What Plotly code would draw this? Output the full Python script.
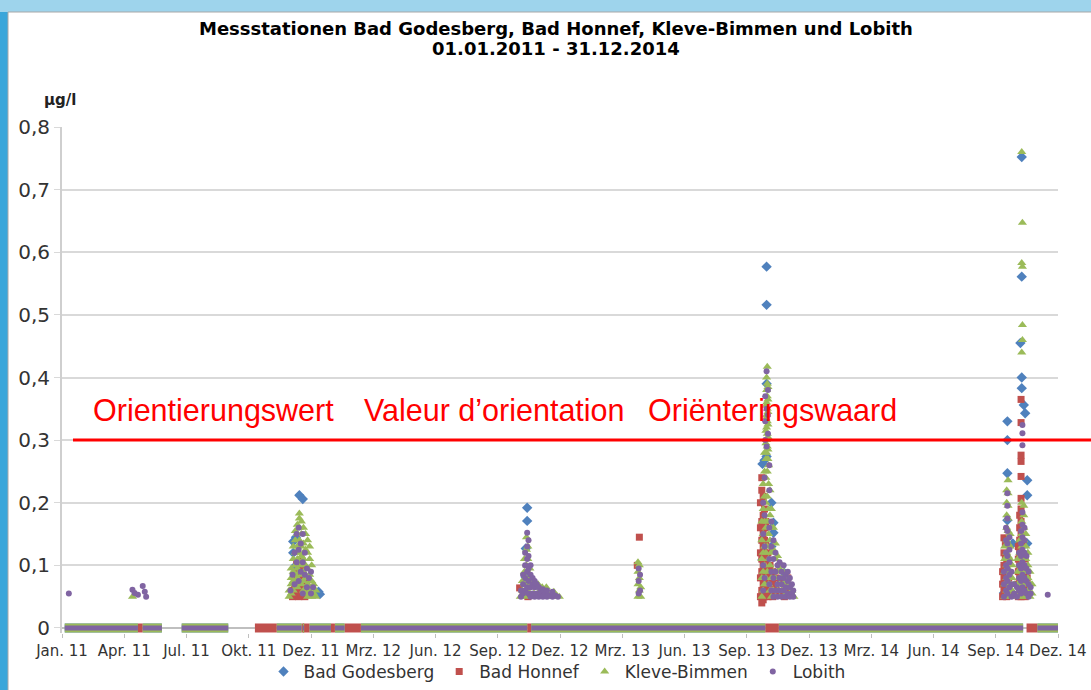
import plotly.graph_objects as go

# ---------------- data ----------------
TICK_DATES = ["2011-01-01", "2011-04-02", "2011-07-02", "2011-10-01", "2011-12-31",
              "2012-03-31", "2012-06-30", "2012-09-29", "2012-12-29", "2013-03-30",
              "2013-06-29", "2013-09-28", "2013-12-28", "2014-03-29", "2014-06-28",
              "2014-09-27", "2014-12-27"]
TICK_LABELS = ["Jan. 11", "Apr. 11", "Jul. 11", "Okt. 11", "Dez. 11", "Mrz. 12", "Jun. 12",
               "Sep. 12", "Dez. 12", "Mrz. 13", "Jun. 13", "Sep. 13", "Dez. 13", "Mrz. 14",
               "Jun. 14", "Sep. 14", "Dez. 14"]
Y_TICKS = [0, 0.1, 0.2, 0.3, 0.4, 0.5, 0.6, 0.7, 0.8]
Y_LABELS = ["0", "0,1", "0,2", "0,3", "0,4", "0,5", "0,6", "0,7", "0,8"]
ORIENTIERUNGSWERT = 0.3

SERIES_NAMES = ["Bad Godesberg", "Bad Honnef", "Kleve-Bimmen", "Lobith"]

GODESBERG_PEAKS = [
    ("2011-12-05", [0.12, 0.138]), ("2011-12-09", [0.10, 0.145]),
    ("2011-12-14", [0.212]), ("2011-12-19", [0.206]),
    ("2012-01-11", [0.058]), ("2012-01-13", [0.054]),
    ("2012-11-09", [0.081, 0.127]), ("2012-11-11", [0.171, 0.192]), ("2012-11-24", [0.069]),
    ("2013-10-21", [0.109, 0.262]), ("2013-10-24", [0.268]),
    ("2013-10-27", [0.274, 0.39, 0.516, 0.577]),
    ("2013-11-03", [0.13, 0.2]), ("2013-11-06", [0.152, 0.168]),
    ("2013-11-22", [0.088]), ("2013-11-25", [0.077]),
    ("2014-10-09", [0.056]), ("2014-10-14", [0.135, 0.172, 0.247, 0.30, 0.33]),
    ("2014-10-22", [0.135]), ("2014-11-02", [0.455]),
    ("2014-11-04", [0.383, 0.40, 0.561, 0.752]),
    ("2014-11-07", [0.356]), ("2014-11-09", [0.343]),
    ("2014-11-12", [0.135, 0.212, 0.236]),
]

HONNEF_PEAKS = [
    ("2011-12-04", [0.05, 0.06]), ("2011-12-07", [0.055, 0.07, 0.085]),
    ("2011-12-10", [0.06, 0.075, 0.09, 0.105]), ("2011-12-13", [0.05, 0.065, 0.08, 0.1]),
    ("2011-12-16", [0.055, 0.07, 0.09, 0.108]), ("2011-12-19", [0.06, 0.08, 0.095]),
    ("2011-12-22", [0.05, 0.065, 0.08]), ("2011-12-25", [0.055, 0.07]),
    ("2012-10-31", [0.064]), ("2012-11-05", [0.055]), ("2012-11-12", [0.05]),
    ("2013-04-21", [0.10]), ("2013-04-24", [0.145]),
    ("2013-10-18", [0.05, 0.08, 0.12, 0.16, 0.2]),
    ("2013-10-20", [0.04, 0.06, 0.09, 0.11, 0.14, 0.17, 0.22, 0.24]),
    ("2013-10-22", [0.045, 0.07, 0.1, 0.13, 0.15, 0.18, 0.21]),
    ("2013-10-24", [0.05, 0.075, 0.095, 0.12, 0.14, 0.16, 0.19]),
    ("2013-10-26", [0.06, 0.085, 0.11, 0.135, 0.17]),
    ("2013-10-29", [0.05, 0.07, 0.09, 0.12]), ("2013-11-01", [0.055, 0.08, 0.1]),
    ("2013-11-05", [0.05, 0.07, 0.09]), ("2013-11-10", [0.06, 0.08]),
    ("2013-11-16", [0.055, 0.075]), ("2013-11-22", [0.05, 0.07]), ("2013-11-27", [0.06, 0.08]),
    ("2014-10-07", [0.05, 0.07, 0.09]), ("2014-10-09", [0.06, 0.08, 0.1, 0.12, 0.144]),
    ("2014-10-11", [0.055, 0.075, 0.095, 0.115, 0.135]),
    ("2014-10-13", [0.05, 0.07, 0.09, 0.11]), ("2014-10-16", [0.06, 0.08]),
    ("2014-10-30", [0.05, 0.07, 0.09, 0.11, 0.13]),
    ("2014-11-01", [0.06, 0.08, 0.1, 0.12, 0.14, 0.16, 0.18]),
    ("2014-11-03", [0.05, 0.07, 0.09, 0.11, 0.13, 0.15, 0.17, 0.19, 0.207, 0.242,
                    0.266, 0.276, 0.328, 0.365]),
    ("2014-11-06", [0.055, 0.075, 0.095, 0.115, 0.135]),
    ("2014-11-09", [0.05, 0.07, 0.09, 0.11]), ("2014-11-12", [0.06, 0.08]),
]

KLEVE_PEAKS = [
    ("2011-04-14", [0.05]), ("2011-04-19", [0.054]),
    ("2011-11-29", [0.05, 0.06]), ("2011-12-02", [0.055, 0.07, 0.08, 0.095]),
    ("2011-12-05", [0.06, 0.075, 0.09, 0.11, 0.13]),
    ("2011-12-08", [0.07, 0.085, 0.1, 0.12, 0.14, 0.155]),
    ("2011-12-11", [0.065, 0.08, 0.095, 0.11, 0.13, 0.15, 0.165]),
    ("2011-12-14", [0.09, 0.105, 0.12, 0.14, 0.16, 0.175, 0.183]),
    ("2011-12-17", [0.07, 0.085, 0.1, 0.115, 0.13, 0.15, 0.17]),
    ("2011-12-20", [0.06, 0.075, 0.09, 0.11, 0.135, 0.16]),
    ("2011-12-23", [0.055, 0.08, 0.1, 0.125, 0.15]),
    ("2011-12-26", [0.05, 0.07, 0.095, 0.12, 0.14]),
    ("2011-12-29", [0.06, 0.085, 0.11, 0.13]), ("2012-01-01", [0.05, 0.075, 0.1]),
    ("2012-01-04", [0.055, 0.07]), ("2012-01-07", [0.05, 0.06]),
    ("2012-11-01", [0.05]), ("2012-11-04", [0.06, 0.075]),
    ("2012-11-07", [0.05, 0.07, 0.09, 0.11]),
    ("2012-11-10", [0.06, 0.08, 0.1, 0.125, 0.145]),
    ("2012-11-12", [0.07, 0.09, 0.11, 0.13]), ("2012-11-15", [0.055, 0.075, 0.095]),
    ("2012-11-18", [0.05, 0.065, 0.08]), ("2012-11-21", [0.055, 0.07]),
    ("2012-11-24", [0.05, 0.065]), ("2012-11-27", [0.055, 0.07]),
    ("2012-11-30", [0.05, 0.06]), ("2012-12-03", [0.055, 0.065]), ("2012-12-06", [0.05]),
    ("2012-12-09", [0.055, 0.065]), ("2012-12-12", [0.05]), ("2012-12-16", [0.055]),
    ("2012-12-20", [0.05, 0.058]), ("2012-12-24", [0.052]), ("2012-12-28", [0.05]),
    ("2013-04-22", [0.05, 0.07, 0.09, 0.105]), ("2013-04-24", [0.06, 0.08, 0.1]),
    ("2013-04-26", [0.05, 0.065]),
    ("2013-10-20", [0.05, 0.08, 0.11, 0.14, 0.17]),
    ("2013-10-22", [0.06, 0.09, 0.12, 0.15, 0.19, 0.23]),
    ("2013-10-24", [0.07, 0.1, 0.13, 0.17, 0.21, 0.25, 0.28]),
    ("2013-10-26", [0.08, 0.12, 0.16, 0.2, 0.24, 0.27, 0.295, 0.315, 0.335, 0.355]),
    ("2013-10-27", [0.28, 0.30, 0.32, 0.34, 0.36, 0.38, 0.40]),
    ("2013-10-28", [0.09, 0.13, 0.17, 0.21, 0.25, 0.29, 0.31, 0.33, 0.35, 0.37, 0.39, 0.417]),
    ("2013-10-29", [0.27, 0.285, 0.305, 0.325, 0.345, 0.365, 0.385]),
    ("2013-10-30", [0.07, 0.11, 0.15, 0.19, 0.23, 0.26]),
    ("2013-11-01", [0.06, 0.1, 0.14, 0.18, 0.22]),
    ("2013-11-03", [0.05, 0.08, 0.12, 0.16, 0.19]),
    ("2013-11-06", [0.06, 0.09, 0.125, 0.16]), ("2013-11-09", [0.05, 0.08, 0.11, 0.135]),
    ("2013-11-12", [0.06, 0.09, 0.115]), ("2013-11-15", [0.05, 0.07, 0.095]),
    ("2013-11-18", [0.06, 0.08, 0.1]), ("2013-11-21", [0.05, 0.07, 0.09]),
    ("2013-11-24", [0.055, 0.075]), ("2013-11-27", [0.05, 0.065, 0.08]),
    ("2013-11-30", [0.055, 0.07]), ("2013-12-03", [0.05, 0.06]), ("2013-12-06", [0.05]),
    ("2014-10-10", [0.05, 0.07, 0.09, 0.11, 0.13]),
    ("2014-10-13", [0.06, 0.08, 0.1, 0.12, 0.14, 0.16, 0.18, 0.2, 0.22]),
    ("2014-10-15", [0.055, 0.075, 0.095, 0.115, 0.135, 0.155, 0.175, 0.195, 0.215, 0.236]),
    ("2014-10-18", [0.05, 0.07, 0.09, 0.11, 0.13, 0.15]),
    ("2014-10-21", [0.06, 0.08, 0.1]), ("2014-10-24", [0.05, 0.07]),
    ("2014-10-29", [0.05, 0.07, 0.09, 0.11]), ("2014-11-01", [0.06, 0.08, 0.1, 0.12, 0.14]),
    ("2014-11-04", [0.05, 0.07, 0.09, 0.11, 0.13, 0.15, 0.17, 0.2, 0.44, 0.583, 0.76]),
    ("2014-11-05", [0.647, 0.577, 0.484, 0.46]),
    ("2014-11-07", [0.06, 0.08, 0.1, 0.12, 0.14, 0.16, 0.18, 0.195]),
    ("2014-11-10", [0.05, 0.07, 0.09, 0.11, 0.13, 0.15]),
    ("2014-11-13", [0.06, 0.08, 0.1, 0.12]), ("2014-11-16", [0.05, 0.07, 0.09]),
    ("2014-11-19", [0.055, 0.07]),
]

LOBITH_PEAKS = [
    ("2011-01-11", [0.055]),
    ("2011-04-14", [0.061]), ("2011-04-17", [0.056]), ("2011-04-22", [0.053]),
    ("2011-04-29", [0.067]), ("2011-05-02", [0.058]), ("2011-05-04", [0.05]),
    ("2011-12-01", [0.06]), ("2011-12-04", [0.085]), ("2011-12-07", [0.07, 0.12]),
    ("2011-12-10", [0.105, 0.15]), ("2011-12-13", [0.075, 0.125, 0.16]),
    ("2011-12-16", [0.09, 0.135]), ("2011-12-19", [0.055, 0.105, 0.15]),
    ("2011-12-22", [0.085, 0.12]), ("2011-12-25", [0.065, 0.095]),
    ("2011-12-28", [0.08]), ("2011-12-31", [0.055, 0.09]), ("2012-01-03", [0.065]),
    ("2012-11-02", [0.05, 0.06]), ("2012-11-05", [0.055, 0.07, 0.085]),
    ("2012-11-08", [0.06, 0.08, 0.1, 0.12]), ("2012-11-11", [0.065, 0.09, 0.11, 0.13, 0.152]),
    ("2012-11-13", [0.055, 0.075, 0.095, 0.115, 0.14]),
    ("2012-11-16", [0.05, 0.065, 0.085, 0.1]), ("2012-11-19", [0.055, 0.07, 0.08]),
    ("2012-11-22", [0.05, 0.065, 0.075]), ("2012-11-25", [0.055, 0.07]),
    ("2012-11-28", [0.05, 0.065]), ("2012-12-01", [0.055, 0.06]),
    ("2012-12-04", [0.05, 0.062]), ("2012-12-07", [0.055]), ("2012-12-10", [0.05, 0.06]),
    ("2012-12-14", [0.052]), ("2012-12-18", [0.05, 0.058]), ("2012-12-22", [0.052]),
    ("2012-12-26", [0.05]),
    ("2013-04-23", [0.055, 0.075, 0.095]), ("2013-04-25", [0.06, 0.085]),
    ("2013-10-22", [0.06, 0.1, 0.15, 0.2]), ("2013-10-24", [0.08, 0.13, 0.18, 0.24]),
    ("2013-10-25", [0.3, 0.33, 0.37]), ("2013-10-27", [0.29, 0.35, 0.41]),
    ("2013-10-29", [0.31, 0.34, 0.38]), ("2013-10-31", [0.07, 0.11, 0.16, 0.22, 0.26]),
    ("2013-11-03", [0.06, 0.09, 0.13, 0.17]), ("2013-11-06", [0.05, 0.08, 0.11, 0.14]),
    ("2013-11-09", [0.06, 0.09, 0.12]), ("2013-11-12", [0.05, 0.07, 0.1]),
    ("2013-11-15", [0.06, 0.08, 0.105]), ("2013-11-18", [0.05, 0.07, 0.09]),
    ("2013-11-21", [0.06, 0.08, 0.1]), ("2013-11-24", [0.05, 0.065, 0.085]),
    ("2013-11-27", [0.055, 0.075, 0.09]), ("2013-11-30", [0.05, 0.065, 0.08]),
    ("2013-12-03", [0.055, 0.07]), ("2013-12-05", [0.05, 0.06]),
    ("2014-10-09", [0.05, 0.07, 0.09]), ("2014-10-12", [0.06, 0.08, 0.1, 0.12, 0.14, 0.16]),
    ("2014-10-14", [0.055, 0.075, 0.095, 0.115, 0.135, 0.155, 0.175, 0.195, 0.215]),
    ("2014-10-17", [0.065, 0.085, 0.105, 0.125, 0.145]), ("2014-10-20", [0.05, 0.07, 0.09]),
    ("2014-10-24", [0.055, 0.07]), ("2014-10-28", [0.05, 0.065]),
    ("2014-10-31", [0.06, 0.08, 0.1, 0.12]),
    ("2014-11-03", [0.055, 0.075, 0.095, 0.115, 0.135, 0.155]),
    ("2014-11-05", [0.065, 0.085, 0.105, 0.125, 0.145, 0.165, 0.185, 0.292, 0.311, 0.324]),
    ("2014-11-08", [0.06, 0.08, 0.1, 0.12, 0.14, 0.16]),
    ("2014-11-11", [0.055, 0.075, 0.095, 0.115]), ("2014-11-14", [0.05, 0.07, 0.09]),
    ("2014-11-17", [0.055, 0.065]), ("2014-12-12", [0.053]),
]

# periods in which the measured value is 0 (below detection limit)
LOBITH_ZERO = [("2011-01-05", "2011-04-22"), ("2011-04-29", "2011-05-27"),
               ("2011-06-25", "2011-09-01"), ("2011-11-11", "2011-12-17"),
               ("2011-12-19", "2011-12-21"), ("2011-12-29", "2012-01-29"),
               ("2012-02-04", "2012-02-18"), ("2012-03-13", "2012-11-11"),
               ("2012-11-17", "2013-10-25"), ("2013-11-14", "2014-11-06"),
               ("2014-11-27", "2014-12-31")]
KLEVE_ZERO = LOBITH_ZERO
GODESBERG_ZERO = LOBITH_ZERO
HONNEF_ZERO = [("2011-04-22", "2011-04-29"), ("2011-10-10", "2011-11-11"),
               ("2011-12-17", "2011-12-29"), ("2012-01-29", "2012-02-04"),
               ("2012-02-18", "2012-03-13"), ("2012-11-11", "2012-11-17"),
               ("2013-10-25", "2013-11-14"), ("2014-11-11", "2014-11-27")]

# ---------------- styling ----------------
COLORS = ["#4F81BD", "#C0504D", "#9BBB59", "#8064A2"]
SYMBOLS = ["diamond", "square", "triangle-up", "circle"]
SIZES = [8, 7, 8, 6]
BAND_WIDTHS = [9, 9, 9, 5]

X_RANGE = ["2011-01-01", "2014-12-27"]
Y_RANGE = [-0.008, 0.8]

W, H = 1091, 690
ML, MR, MT, MB = 62, 33, 127, 57
PW, PH = W - ML - MR, H - MT - MB


def px_x(px):
    return (px - ML) / PW


def px_y(py):
    return (H - MB - py) / PH


def expand(peaks):
    xs, ys = [], []
    for d, vals in peaks:
        for v in vals:
            xs.append(d)
            ys.append(v)
    return xs, ys


def band(segments):
    xs, ys = [], []
    for s, e in segments:
        xs += [s, e, None]
        ys += [0, 0, None]
    return xs, ys


fig = go.Figure()
all_peaks = [GODESBERG_PEAKS, HONNEF_PEAKS, KLEVE_PEAKS, LOBITH_PEAKS]
all_zero = [GODESBERG_ZERO, HONNEF_ZERO, KLEVE_ZERO, LOBITH_ZERO]

for i in range(4):
    bx, by = band(all_zero[i])
    fig.add_trace(go.Scatter(x=bx, y=by, mode="lines", showlegend=False, hoverinfo="skip",
                             line=dict(color=COLORS[i], width=BAND_WIDTHS[i])))
for i in range(4):
    px_, py_ = expand(all_peaks[i])
    fig.add_trace(go.Scatter(x=px_, y=py_, mode="markers", name=SERIES_NAMES[i],
                             cliponaxis=False,
                             marker=dict(color=COLORS[i], symbol=SYMBOLS[i], size=SIZES[i],
                                         line=dict(width=0))))

y_line = (ORIENTIERUNGSWERT - Y_RANGE[0]) / (Y_RANGE[1] - Y_RANGE[0])

shapes = [
    # slide background strips
    dict(type="rect", xref="paper", yref="paper", x0=px_x(0), x1=px_x(8),
         y0=px_y(H), y1=px_y(0), fillcolor="#3AA6DA", line=dict(width=0), layer="below"),
    dict(type="rect", xref="paper", yref="paper", x0=px_x(0), x1=px_x(W),
         y0=px_y(12), y1=px_y(0), fillcolor="#9ED4EC", line=dict(width=0), layer="below"),
    dict(type="line", xref="paper", yref="paper", x0=px_x(8), x1=px_x(W),
         y0=px_y(12), y1=px_y(12), line=dict(color="#A8A8A8", width=1), layer="below"),
    dict(type="line", xref="paper", yref="paper", x0=px_x(8), x1=px_x(8),
         y0=px_y(H), y1=px_y(12), line=dict(color="#A8A8A8", width=1), layer="below"),
    # orientation value line
    dict(type="line", xref="paper", yref="paper", x0=px_x(73), x1=px_x(W),
         y0=y_line, y1=y_line, line=dict(color="#FF0000", width=3)),
]

red_font = dict(family="Liberation Sans, Arial", size=30.5, color="#FF0000")
annotations = [
    dict(text="Orientierungswert", xref="paper", yref="y", x=px_x(91), y=0.348,
         xanchor="left", yanchor="middle", showarrow=False, font=red_font),
    dict(text="Valeur d’orientation", xref="paper", yref="y", x=px_x(362), y=0.348,
         xanchor="left", yanchor="middle", showarrow=False, font=red_font),
    dict(text="Oriënteringswaard", xref="paper", yref="y", x=px_x(646), y=0.348,
         xanchor="left", yanchor="middle", showarrow=False, font=red_font),
    dict(text="<b>Messstationen Bad Godesberg, Bad Honnef, Kleve-Bimmen und Lobith</b>",
         xref="paper", yref="paper", x=px_x(556), y=px_y(28), xanchor="center",
         yanchor="middle", showarrow=False,
         font=dict(family="DejaVu Sans", size=18, color="#000000")),
    dict(text="<b>01.01.2011 - 31.12.2014</b>",
         xref="paper", yref="paper", x=px_x(556), y=px_y(48), xanchor="center",
         yanchor="middle", showarrow=False,
         font=dict(family="DejaVu Sans", size=18, color="#000000")),
    dict(text="<b>µg/l</b>", xref="paper", yref="paper", x=px_x(42), y=px_y(100),
         xanchor="left", yanchor="middle", showarrow=False,
         font=dict(family="DejaVu Sans", size=15, color="#222222")),
]

fig.update_layout(
    width=W, height=H,
    margin=dict(l=ML, r=MR, t=MT, b=MB, pad=0, autoexpand=False),
    paper_bgcolor="white", plot_bgcolor="white",
    shapes=shapes, annotations=annotations,
    showlegend=True,
    legend=dict(orientation="h", x=0.497, xanchor="center",
                yref="container", y=(H - 672) / H, yanchor="middle",
                font=dict(family="DejaVu Sans", size=17, color="#333333"),
                itemwidth=30, bgcolor="rgba(0,0,0,0)"),
    xaxis=dict(type="date", range=X_RANGE, tickvals=TICK_DATES, ticktext=TICK_LABELS,
               showgrid=False, showline=False, zeroline=False, automargin=False,
               ticks="outside", ticklen=4, tickcolor="#BFBFBF",
               tickfont=dict(family="DejaVu Sans", size=15, color="#333333")),
    yaxis=dict(range=Y_RANGE, tickvals=Y_TICKS, ticktext=Y_LABELS, automargin=False,
               showgrid=True, gridcolor="#D9D9D9", gridwidth=1.5,
               zeroline=True, zerolinecolor="#BFBFBF", zerolinewidth=1.5,
               showline=True, linecolor="#CFCFCF", linewidth=2,
               ticks="outside", ticklen=6, tickcolor="#D9D9D9",
               tickfont=dict(family="DejaVu Sans", size=20, color="#333333")),
)

fig.write_html("out.html", config={"displayModeBar": False},
               post_script="document.body.style.margin='0';")
